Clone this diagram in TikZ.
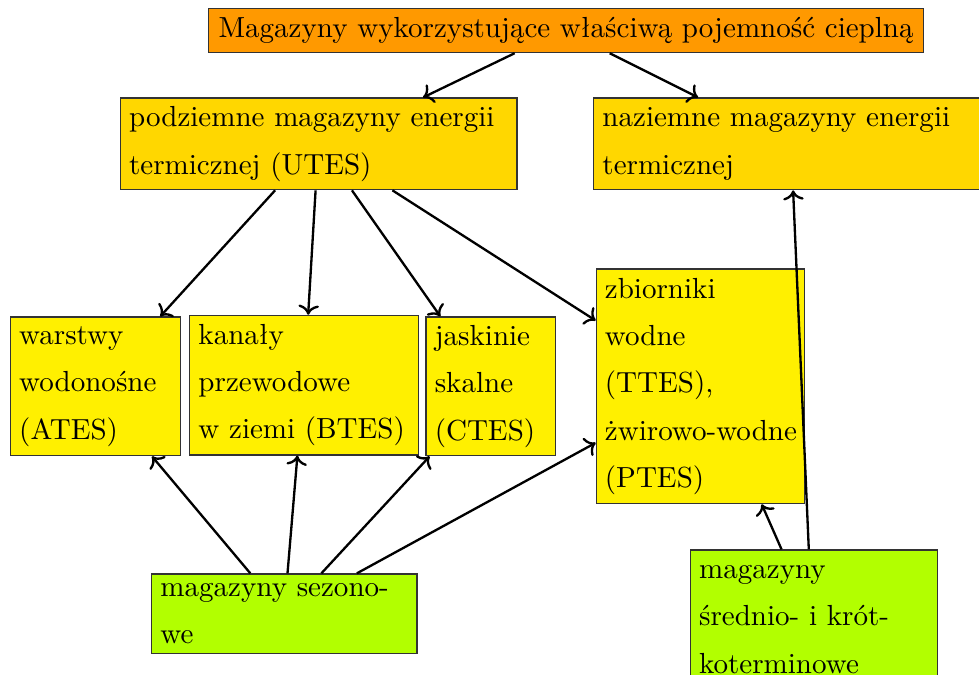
\documentclass[tikz,border=0pt]{standalone}
\usepackage{fontspec}
\definecolor{boxorange}{RGB}{255,153,0}
\definecolor{boxgold}{RGB}{255,215,0}
\definecolor{boxyellow}{RGB}{255,240,0}
\definecolor{boxlime}{RGB}{178,255,0}
\usetikzlibrary{arrows.meta}

\begin{document}
\begin{tikzpicture}[
  store/.style={draw=black!80, anchor=north west, align=left,
    inner xsep=3pt, inner ysep=0pt, font=\fontsize{10}{16.3}\selectfont},
  link/.style={->, thick},
]
\useasboundingbox (0,0) rectangle (11.85,8.17);
\clip (0,0) rectangle (11.85,8.17);

% Top category
\node[store, fill=boxorange, align=center, minimum width=8.65cm, minimum height=0.53cm]
  (heat) at (2.52,8.07) {Magazyny wykorzystujące właściwą pojemność cieplną};

% Second level
\node[store, fill=boxgold, text width=4.59cm, minimum height=1.11cm]
  (utes) at (1.45,6.99) {podziemne magazyny energii\\termicznej (UTES)};
\node[store, fill=boxgold, text width=4.59cm, minimum height=1.11cm]
  (above) at (7.18,6.99) {naziemne magazyny energii\\termicznej};

% Underground types
\node[store, fill=boxyellow, text width=1.85cm, minimum height=1.68cm]
  (ates) at (0.12,4.34) {warstwy\\wodonośne\\(ATES)};
\node[store, fill=boxyellow, text width=2.56cm, minimum height=1.69cm]
  (btes) at (2.29,4.36) {kanały\\przewodowe\\w~ziemi (BTES)};
\node[store, fill=boxyellow, text width=1.36cm, minimum height=1.68cm]
  (ctes) at (5.15,4.34) {jaskinie\\skalne\\(CTES)};
\node[store, fill=boxyellow, text width=2.31cm, minimum height=2.84cm]
  (ttes) at (7.21,4.92) {zbiorniki\\wodne\\(TTES),\\\mbox{żwirowo-wodne}\\(PTES)};

% Time scale
\node[store, fill=boxlime, text width=3.0cm, minimum height=0.96cm]
  (season) at (1.83,1.23) {magazyny sezono-\\we};
\node[store, fill=boxlime, text width=2.78cm, minimum height=1.68cm]
  (short) at (8.35,1.52) {magazyny\\średnio- i krót-\\koterminowe};

% Arrows from the top
\draw[link] ([xshift=3.71cm]heat.south west) -- ([xshift=3.67cm]utes.north west);
\draw[link] ([xshift=4.86cm]heat.south west) -- ([xshift=1.27cm]above.north west);

% Arrows from UTES
\draw[link] ([xshift=1.88cm]utes.south west) -- ([xshift=1.82cm]ates.north west);
\draw[link] ([xshift=2.37cm]utes.south west) -- ([xshift=1.44cm]btes.north west);
\draw[link] ([xshift=2.81cm]utes.south west) -- ([xshift=0.18cm]ctes.north west);
\draw[link] ([xshift=3.30cm]utes.south west) -- ([yshift=-0.63cm]ttes.north west);

% Arrows from seasonal storage
\draw[link] ([xshift=1.20cm]season.north west) -- ([xshift=1.72cm]ates.south west);
\draw[link] ([xshift=1.65cm]season.north west) -- ([xshift=1.31cm]btes.south west);
\draw[link] ([xshift=2.06cm]season.north west) -- ([xshift=0.05cm]ctes.south west);
\draw[link] ([xshift=2.49cm]season.north west) -- ([yshift=-2.11cm]ttes.north west);

% Arrows from short-term storage
\draw[link] ([xshift=1.11cm]short.north west) -- ([xshift=2.01cm]ttes.south west);
\draw[link] ([xshift=1.44cm]short.north west) -- ([xshift=2.42cm]above.south west);
\end{tikzpicture}
\end{document}
